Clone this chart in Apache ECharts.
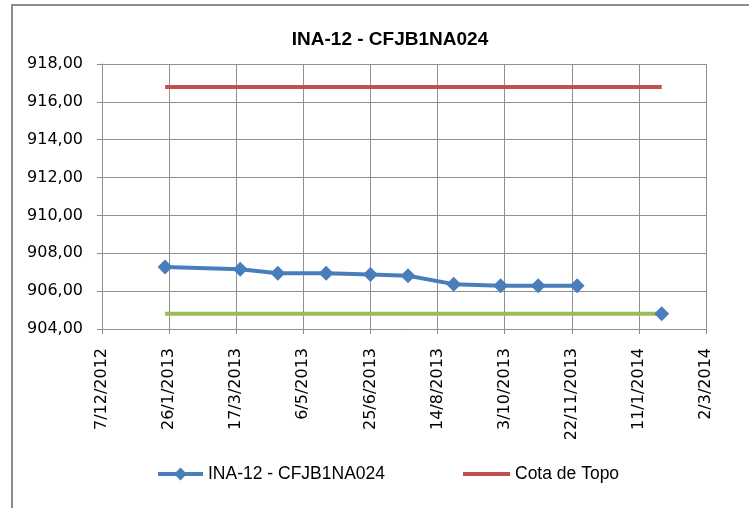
<!DOCTYPE html>
<html>
<head>
<meta charset="utf-8">
<script src="https://cdn.jsdelivr.net/npm/echarts@6/dist/echarts.min.js"></script>
<style>
    html, body { margin: 0; padding: 0; background: #fff; }
    #chart { width: 749px; height: 508px; }
</style>
</head>
<body>
<div id="chart"></div>
<script>
// leituras do instrumento
var readDates = ['23/1/2013', '20/3/2013', '17/4/2013', '23/5/2013', '25/6/2013', '23/7/2013', '26/8/2013', '30/9/2013', '28/10/2013', '26/11/2013'];
var readValues = [907.27, 907.16, 906.95, 906.95, 906.88, 906.81, 906.37, 906.28, 906.28, 906.28];
// leitura isolada (sem ligação com as anteriores)
var lateDates = ['28/1/2014'];
var lateValues = [904.81];
// cotas de referência
var refDates = ['23/1/2013', '28/1/2014'];
var topoValues = [916.79, 916.79];
var fundoValues = [904.81, 904.81];

var seriesName = 'INA-12 - CFJB1NA024';
var startDate = '7/12/2012';
var dayMs = 86400000;

function toUtc(s) {
    var p = s.split('/');
    return Date.UTC(+p[2], +p[1] - 1, +p[0]);
}
var base = toUtc(startDate);
function toDay(s) {
    return Math.round((toUtc(s) - base) / dayMs);
}
function pairs(dates, values) {
    return dates.map(function (d, i) { return [toDay(d), values[i]]; });
}

var gridColor = '#8f8f8f';
var legendText = { fontFamily: 'Liberation Sans', fontSize: 17.5, color: '#000' };
var chart = echarts.init(document.getElementById('chart'));
var option = {
    animation: false,
    title: {
        text: seriesName,
        left: 385,
        top: 25,
        textAlign: 'center',
        textStyle: {
            fontFamily: 'Liberation Sans',
            fontWeight: 'bold',
            fontSize: 19,
            color: '#000'
        }
    },
    graphic: [{
        type: 'rect',
        shape: { x: 12, y: 5, width: 800, height: 600 },
        style: { fill: 'none', stroke: '#8c8c8c', lineWidth: 2 },
        silent: true
    }],
    legend: [{
        data: [seriesName],
        left: 156,
        top: 465,
        padding: 0,
        itemWidth: 45,
        itemHeight: 16,
        itemGap: 5,
        lineStyle: { width: 4 },
        textStyle: legendText
    }, {
        data: [{ name: 'Cota de Topo', icon: 'rect' }],
        left: 463,
        top: 465,
        padding: 0,
        itemWidth: 47,
        itemHeight: 4,
        textStyle: legendText
    }],
    grid: {
        left: 102,
        right: 43,
        top: 64,
        bottom: 179,
        containLabel: false
    },
    xAxis: {
        type: 'value',
        min: 0,
        max: 450,
        interval: 50,
        axisLine: { lineStyle: { color: gridColor } },
        axisTick: { show: true, length: 5, lineStyle: { color: gridColor } },
        splitLine: { show: true, lineStyle: { color: gridColor, width: 1 } },
        axisLabel: {
            rotate: 90,
            margin: 19,
            color: '#000',
            fontFamily: 'DejaVu Sans',
            fontSize: 16,
            formatter: function (v) {
                var d = new Date(base + v * dayMs);
                return d.getUTCDate() + '/' + (d.getUTCMonth() + 1) + '/' + d.getUTCFullYear();
            }
        }
    },
    yAxis: {
        type: 'value',
        min: 904,
        max: 918,
        interval: 2,
        axisLine: { show: true, lineStyle: { color: gridColor } },
        axisTick: { show: true, length: 5, lineStyle: { color: gridColor } },
        splitLine: { show: true, lineStyle: { color: gridColor, width: 1 } },
        axisLabel: {
            margin: 19,
            color: '#000',
            fontFamily: 'DejaVu Sans',
            fontSize: 16,
            formatter: function (v) { return v.toFixed(2).replace('.', ','); }
        }
    },
    series: [{
        name: 'Cota de Topo',
        type: 'line',
        data: pairs(refDates, topoValues),
        symbol: 'none',
        lineStyle: { color: '#c0504d', width: 4 },
        itemStyle: { color: '#c0504d' },
        silent: true
    }, {
        name: 'Cota de Fundo',
        type: 'line',
        data: pairs(refDates, fundoValues),
        symbol: 'none',
        lineStyle: { color: '#9bbb59', width: 4 },
        itemStyle: { color: '#9bbb59' },
        silent: true
    }, {
        name: seriesName,
        type: 'line',
        data: pairs(readDates, readValues),
        symbol: 'diamond',
        symbolSize: 15,
        lineStyle: { color: '#4a7ebb', width: 4 },
        itemStyle: { color: '#4a7ebb' },
        silent: true
    }, {
        name: seriesName,
        type: 'line',
        data: pairs(lateDates, lateValues),
        symbol: 'diamond',
        symbolSize: 15,
        lineStyle: { color: '#4a7ebb', width: 4 },
        itemStyle: { color: '#4a7ebb' },
        silent: true
    }]
};
chart.setOption(option);
</script>
</body>
</html>
